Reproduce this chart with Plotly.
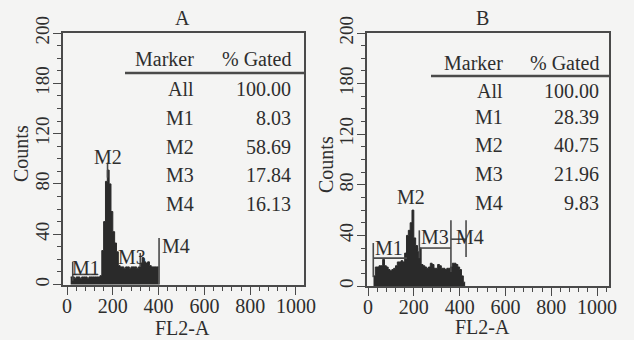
import plotly.graph_objects as go

# ---------------- data ----------------
panel_titles = ["A", "B"]
x_title = "FL2-A"
y_title = "Counts"
x_tickvals = [0, 200, 400, 600, 800, 1000]
x_ticktext = ["0", "200", "400", "600", "800", "1000"]
y_tickvals = [0, 40, 80, 120, 160, 200]
y_ticktext = ["0", "40", "80", "120", "180", "200"]

# histogram A: bin edges (FL2-A channel) and counts
edges_a = [16, 24, 32, 40, 48, 56, 64, 72, 80, 88, 96, 104, 112, 120, 128, 136, 144,
           152, 160, 168, 176, 184, 192, 200, 208, 216, 224, 232, 240, 248, 256, 264,
           272, 280, 288, 296, 304, 312, 320, 328, 336, 344, 352, 360, 368, 376, 384,
           392, 400]
counts_a = [6, 6, 5, 6, 6, 5, 6, 6, 6, 5, 6, 6, 6, 6, 6, 6, 7,
            27, 50, 82, 91, 80, 58, 42, 33, 26, 15, 14, 14, 13, 14, 14,
            13, 14, 14, 14, 13, 14, 17, 21, 18, 17, 18, 15, 14, 14, 14, 14]

# histogram B
edges_b = [24, 32, 40, 48, 56, 64, 72, 80, 88, 96, 104, 112, 120, 128, 136, 144, 152,
           160, 168, 176, 184, 192, 200, 208, 216, 224, 232, 240, 248, 256, 264, 272,
           280, 288, 296, 304, 312, 320, 328, 336, 344, 352, 360, 368, 376, 384, 392,
           400, 408, 416, 424]
counts_b = [8, 15, 15, 16, 16, 21, 16, 15, 13, 12, 13, 14, 16, 19, 19, 20, 19,
            26, 40, 44, 50, 60, 38, 32, 27, 30, 17, 16, 15, 14, 15, 18,
            17, 14, 14, 17, 16, 14, 14, 13, 14, 14, 15, 18, 18, 17, 15,
            13, 8, 3]

# gate marker segments (x0, y0, x1, y1) in data units
markers_a = [(25, 3, 25, 18), (25, 8, 135, 8),
             (177, 85, 177, 97),
             (320, 14, 320, 25),
             (402, 0, 402, 37)]
markers_b = [(23, 7, 23, 34), (23, 22, 170, 22),
             (224, 22, 224, 44), (224, 30, 362, 30), (362, 11, 362, 52),
             (362, 37, 428, 37), (428, 23, 428, 52)]

marker_names = ["M1", "M2", "M3", "M4"]
label_pos_a = [(83, 13), (177, 101), (284, 22), (476, 31)]
label_pos_b = [(92, 30), (188, 70), (293, 39), (445, 39)]

table_header = ["Marker", "% Gated"]
table_rows = ["All", "M1", "M2", "M3", "M4"]
gated_a = ["100.00", "8.03", "58.69", "17.84", "16.13"]
gated_b = ["100.00", "28.39", "40.75", "21.96", "9.83"]

# ---------------- style ----------------
W, H = 634, 340
FONT = "Liberation Serif"
TXT = "#2e2e2e"
FILL = "#2a2a2a"
LINE = "#4a4a4a"
BG = "#f4f4f3"


def px(x):
    return x / W


def py(y):
    return 1 - y / H


fig = go.Figure()


def add_hist(edges, counts, xa, ya):
    xs = list(edges)
    ys = list(counts) + [counts[-1]]
    fig.add_trace(go.Scatter(x=xs, y=ys, mode="lines", line=dict(shape="hv", color=FILL, width=1),
                             fill="tozeroy", fillcolor=FILL, xaxis=xa, yaxis=ya,
                             hoverinfo="skip", showlegend=False))


def add_markers(segs, xa, ya):
    xs, ys = [], []
    for x0, y0, x1, y1 in segs:
        xs += [x0, x1, None]
        ys += [y0, y1, None]
    fig.add_trace(go.Scatter(x=xs, y=ys, mode="lines", line=dict(color=LINE, width=1.6),
                             xaxis=xa, yaxis=ya, hoverinfo="skip", showlegend=False))


add_hist(edges_a, counts_a, "x", "y")
add_markers(markers_a, "x", "y")
add_hist(edges_b, counts_b, "x2", "y2")
add_markers(markers_b, "x2", "y2")

axis_common = dict(showline=True, mirror=True, linecolor=LINE, linewidth=1.5,
                   ticks="outside", ticklen=8, tickwidth=1.3, tickcolor=LINE,
                   showgrid=False, zeroline=False, automargin=False,
                   tickfont=dict(family=FONT, size=20, color=TXT))

xa = dict(axis_common, tickmode="array", tickvals=x_tickvals, ticktext=x_ticktext,
          ticklabelstandoff=-6,
          minor=dict(tickmode="linear", tick0=0, dtick=40, ticks="outside", ticklen=4,
                     tickwidth=1.2, tickcolor=LINE))
ya = dict(axis_common, tickmode="array", tickvals=y_tickvals, ticktext=y_ticktext,
          tickangle=-90, tickfont=dict(family=FONT, size=19, color=TXT),
          ticklabelstandoff=-3,
          minor=dict(tickmode="linear", tick0=0, dtick=10, ticks="outside", ticklen=4,
                     tickwidth=1.2, tickcolor=LINE))

fig.update_layout(
    width=W, height=H, margin=dict(l=0, r=0, t=0, b=0, autoexpand=False),
    paper_bgcolor=BG, plot_bgcolor=BG, showlegend=False,
    xaxis=dict(xa, domain=[px(63), px(304)], range=[-17.5, 1035], anchor="y"),
    yaxis=dict(ya, domain=[py(285), py(33)], range=[-0.4, 200], anchor="x"),
    xaxis2=dict(xa, domain=[px(367), px(609)], range=[-4.4, 1052], anchor="y2"),
    yaxis2=dict(ya, domain=[py(286), py(33)], range=[0, 200], anchor="x2"),
)

ann = []


def txt(text, x, y, size=20, xanchor="center", angle=0, xref="paper", yref="paper"):
    ann.append(dict(text=text, x=x, y=y, xref=xref, yref=yref, showarrow=False,
                    xanchor=xanchor, yanchor="middle", textangle=angle,
                    font=dict(family=FONT, size=size, color=TXT)))


# titles and axis titles
txt(panel_titles[0], px(182), py(18))
txt(panel_titles[1], px(482), py(18))
txt(x_title, px(182), py(328))
txt(x_title, px(482), py(327))
txt(y_title, px(21), py(154), angle=-90)
txt(y_title, px(326), py(165), angle=-90)

# marker labels
for name, (lx, ly) in zip(marker_names, label_pos_a):
    txt(name, lx, ly, size=20, xref="x", yref="y")
for name, (lx, ly) in zip(marker_names, label_pos_b):
    txt(name, lx, ly, size=20, xref="x2", yref="y2")

# tables
def table(col1_right, col2_right, header_y, row_ys, values, line_x0, line_x1, line_y):
    txt(table_header[0], px(col1_right), py(header_y), xanchor="right")
    txt(table_header[1], px(col2_right), py(header_y), xanchor="right")
    for name, val, ry in zip(table_rows, values, row_ys):
        txt(name, px(col1_right), py(ry), xanchor="right")
        txt(val, px(col2_right), py(ry), xanchor="right")
    fig.add_shape(type="line", xref="paper", yref="paper", x0=px(line_x0), x1=px(line_x1),
                  y0=py(line_y), y1=py(line_y), line=dict(color=LINE, width=2.5))


table(196, 293, 59, [89, 118, 147, 175, 204], gated_a, 125, 304, 73)
table(505, 601, 63, [91, 117, 145, 174, 203], gated_b, 431, 609, 76)

fig.update_layout(annotations=ann)
fig.write_html("out.html", config={"displayModeBar": False},
               post_script="document.body.style.margin='0';document.body.style.background='%s';" % BG)
